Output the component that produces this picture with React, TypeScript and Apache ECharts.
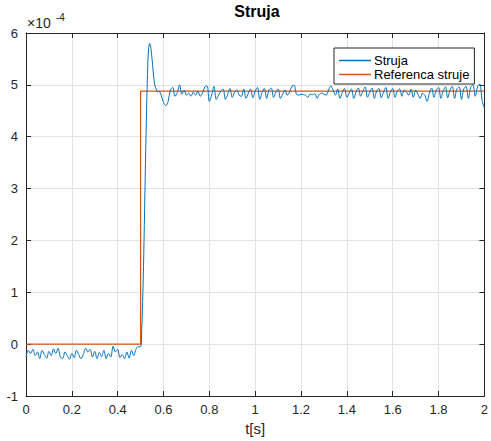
import React, { useEffect, useRef } from "react";
import * as echarts from "echarts";

// values in units of 1e-4 A
const preValues = [
  -0.25, -0.12, -0.18, -0.1, -0.22, -0.15, -0.28, -0.12, -0.2, -0.27,
  -0.14, -0.22, -0.09, -0.18, -0.08, -0.25, -0.28, -0.15, -0.22, -0.29,
  -0.18, -0.26, -0.12, -0.2, -0.28, -0.2, -0.08, -0.15, -0.1, -0.25,
  -0.14, -0.28, -0.16, -0.24, -0.12, -0.28, -0.18, -0.25, -0.04, -0.15,
  -0.1, -0.26, -0.2, -0.28, -0.15, -0.27, -0.12, -0.22, -0.1, -0.05,
];
const transientTimes = [
  0.5, 0.505, 0.51, 0.515, 0.52, 0.525, 0.53, 0.535, 0.54, 0.545, 0.55, 0.555,
  0.56, 0.565, 0.57, 0.575, 0.58, 0.59, 0.6, 0.61, 0.62, 0.63, 0.64, 0.65, 0.66, 0.67,
];
const transientValues = [
  -0.05, 0.3, 1.0, 2.0, 3.2, 4.3, 5.2, 5.72, 5.8, 5.7, 5.5, 5.25,
  5.05, 4.95, 4.9, 4.86, 4.88, 4.8, 4.66, 4.6, 4.68, 4.9, 4.95, 4.78, 4.85, 5.0,
];
const postValues = [
  4.82, 4.9, 4.8, 4.84, 4.78, 4.86, 4.8, 4.88, 4.78, 4.84, 4.96, 4.98, 4.68, 4.8, 4.97, 4.72,
  4.8, 4.88, 4.92, 4.72, 4.82, 4.93, 4.76, 4.86, 4.9, 4.8, 4.78, 4.92, 4.74, 4.84, 4.92, 4.75,
  4.88, 4.95, 4.72, 4.85, 4.93, 4.74, 4.9, 4.94, 4.76, 4.86, 4.92, 4.74, 4.82, 4.9, 4.8, 4.86,
  4.97, 4.99, 4.82, 4.8, 4.82, 4.81, 4.8, 4.76, 4.82, 4.81, 4.83, 4.74, 4.82, 4.84, 4.82, 4.8,
  4.9, 4.98, 4.9, 4.8, 4.92, 4.74, 4.85, 4.93, 4.76, 4.84, 4.92, 4.74, 4.86, 4.94, 4.78, 4.88,
  4.96, 4.76,
  4.86, 4.94, 4.74, 4.88, 4.93, 4.75, 4.86, 4.95, 4.74, 4.86, 4.93, 4.76, 4.88, 4.92, 4.78, 4.9,
  4.86, 4.8, 4.92, 4.76, 4.9, 4.82, 4.74, 4.84, 4.8, 4.68, 4.84, 4.94, 4.76, 4.9, 4.95, 4.74,
  4.88, 4.96, 4.75, 4.9, 4.97, 4.74, 4.92, 4.96, 4.72, 4.92, 4.97, 4.74, 4.95, 5.0, 4.78, 4.96,
  5.02, 4.7, 4.55,
];
const refTimes = [0, 0.5, 0.5, 2];
const refValues = [0, 0, 4.88, 4.88];
const xTicks = [0, 0.2, 0.4, 0.6, 0.8, 1, 1.2, 1.4, 1.6, 1.8, 2];
const yTicks = [-1, 0, 1, 2, 3, 4, 5, 6];

const seriesNames = ["Struja", "Referenca struje"];

export default function App() {
  const ref = useRef<HTMLDivElement>(null);
  useEffect(() => {
    const chart = echarts.init(ref.current!, null, { renderer: "svg" });
    const struja: number[][] = [];
    preValues.forEach((v, i) => struja.push([i * 0.01, v]));
    transientTimes.forEach((t, i) => struja.push([t, transientValues[i]]));
    postValues.forEach((v, i) => struja.push([+(0.68 + i * 0.01).toFixed(2), v]));
    const refData = refTimes.map((t, i) => [t, refValues[i]]);
    const axisColor = "#262626";
    const font = "Liberation Sans, Arial, sans-serif";
    const commonAxis = {
      axisLine: { show: true, onZero: false, lineStyle: { color: axisColor, width: 1 } },
      axisTick: { show: true, inside: true, length: 5, lineStyle: { color: axisColor } },
    };
    chart.setOption({
      animation: false,
      textStyle: { fontFamily: font },
      grid: { left: 26, right: 4, top: 33, bottom: 45, containLabel: false },
      legend: {
        data: seriesNames,
        orient: "vertical",
        left: 334,
        top: 48,
        icon: "rect",
        itemWidth: 32,
        itemHeight: 1.5,
        itemGap: 1,
        padding: [6, 5, 3, 5],
        backgroundColor: "#fff",
        borderColor: axisColor,
        borderWidth: 1,
        borderRadius: 0,
        textStyle: { fontSize: 13, color: "#000", fontFamily: font, padding: [0, 0, 0, -2] },
      },
      xAxis: [
        {
          type: "value",
          min: 0,
          max: 2,
          interval: 0.2,
          name: "t[s]",
          nameLocation: "middle",
          nameGap: 25,
          nameTextStyle: { fontSize: 15, color: axisColor, fontFamily: font },
          axisLabel: {
            color: axisColor,
            fontSize: 13,
            margin: 7,
            formatter: (v: number) => {
              const f = xTicks.find((t) => Math.abs(t - v) < 1e-9);
              return f === undefined ? "" : String(f);
            },
          },
          splitLine: { show: true, lineStyle: { color: "#e3e3e3", width: 1 } },
          ...commonAxis,
        },
        {
          type: "value",
          position: "top",
          min: 0,
          max: 2,
          interval: 0.2,
          axisLabel: { show: false },
          splitLine: { show: false },
          ...commonAxis,
        },
      ],
      yAxis: [
        {
          type: "value",
          min: -1,
          max: 6,
          interval: 1,
          axisLabel: {
            color: axisColor,
            fontSize: 13,
            margin: 8,
            formatter: (v: number) => {
              const f = yTicks.find((t) => Math.abs(t - v) < 1e-9);
              return f === undefined ? "" : String(f);
            },
          },
          splitLine: { show: true, lineStyle: { color: "#e3e3e3", width: 1 } },
          ...commonAxis,
        },
        {
          type: "value",
          position: "right",
          min: -1,
          max: 6,
          interval: 1,
          axisLabel: { show: false },
          splitLine: { show: false },
          ...commonAxis,
        },
      ],
      graphic: [
        {
          type: "text",
          x: 257,
          y: 3,
          style: {
            text: "Struja",
            fontSize: 16,
            fontWeight: "bold",
            fill: "#000",
            fontFamily: font,
            textAlign: "center",
            textVerticalAlign: "top",
          },
        },
        {
          type: "text",
          left: 27,
          top: 16,
          style: { text: "×10", fontSize: 14, fill: axisColor, fontFamily: font },
        },
        {
          type: "text",
          left: 56,
          top: 12,
          style: { text: "-4", fontSize: 10, fill: axisColor, fontFamily: font },
        },
      ],
      series: [
        {
          name: seriesNames[0],
          type: "line",
          data: struja,
          symbol: "none",
          smooth: 0.35,
          lineStyle: { color: "#0072BD", width: 1 },
          itemStyle: { color: "#0072BD" },
          z: 3,
        },
        {
          name: seriesNames[1],
          type: "line",
          data: refData,
          symbol: "none",
          lineStyle: { color: "#D95319", width: 1.2 },
          itemStyle: { color: "#D95319" },
          z: 2,
        },
      ],
    });
    return () => chart.dispose();
  }, []);
  return <div ref={ref} style={{ width: 491, height: 441, position: "absolute", left: 0, top: 0 }} />;
}
